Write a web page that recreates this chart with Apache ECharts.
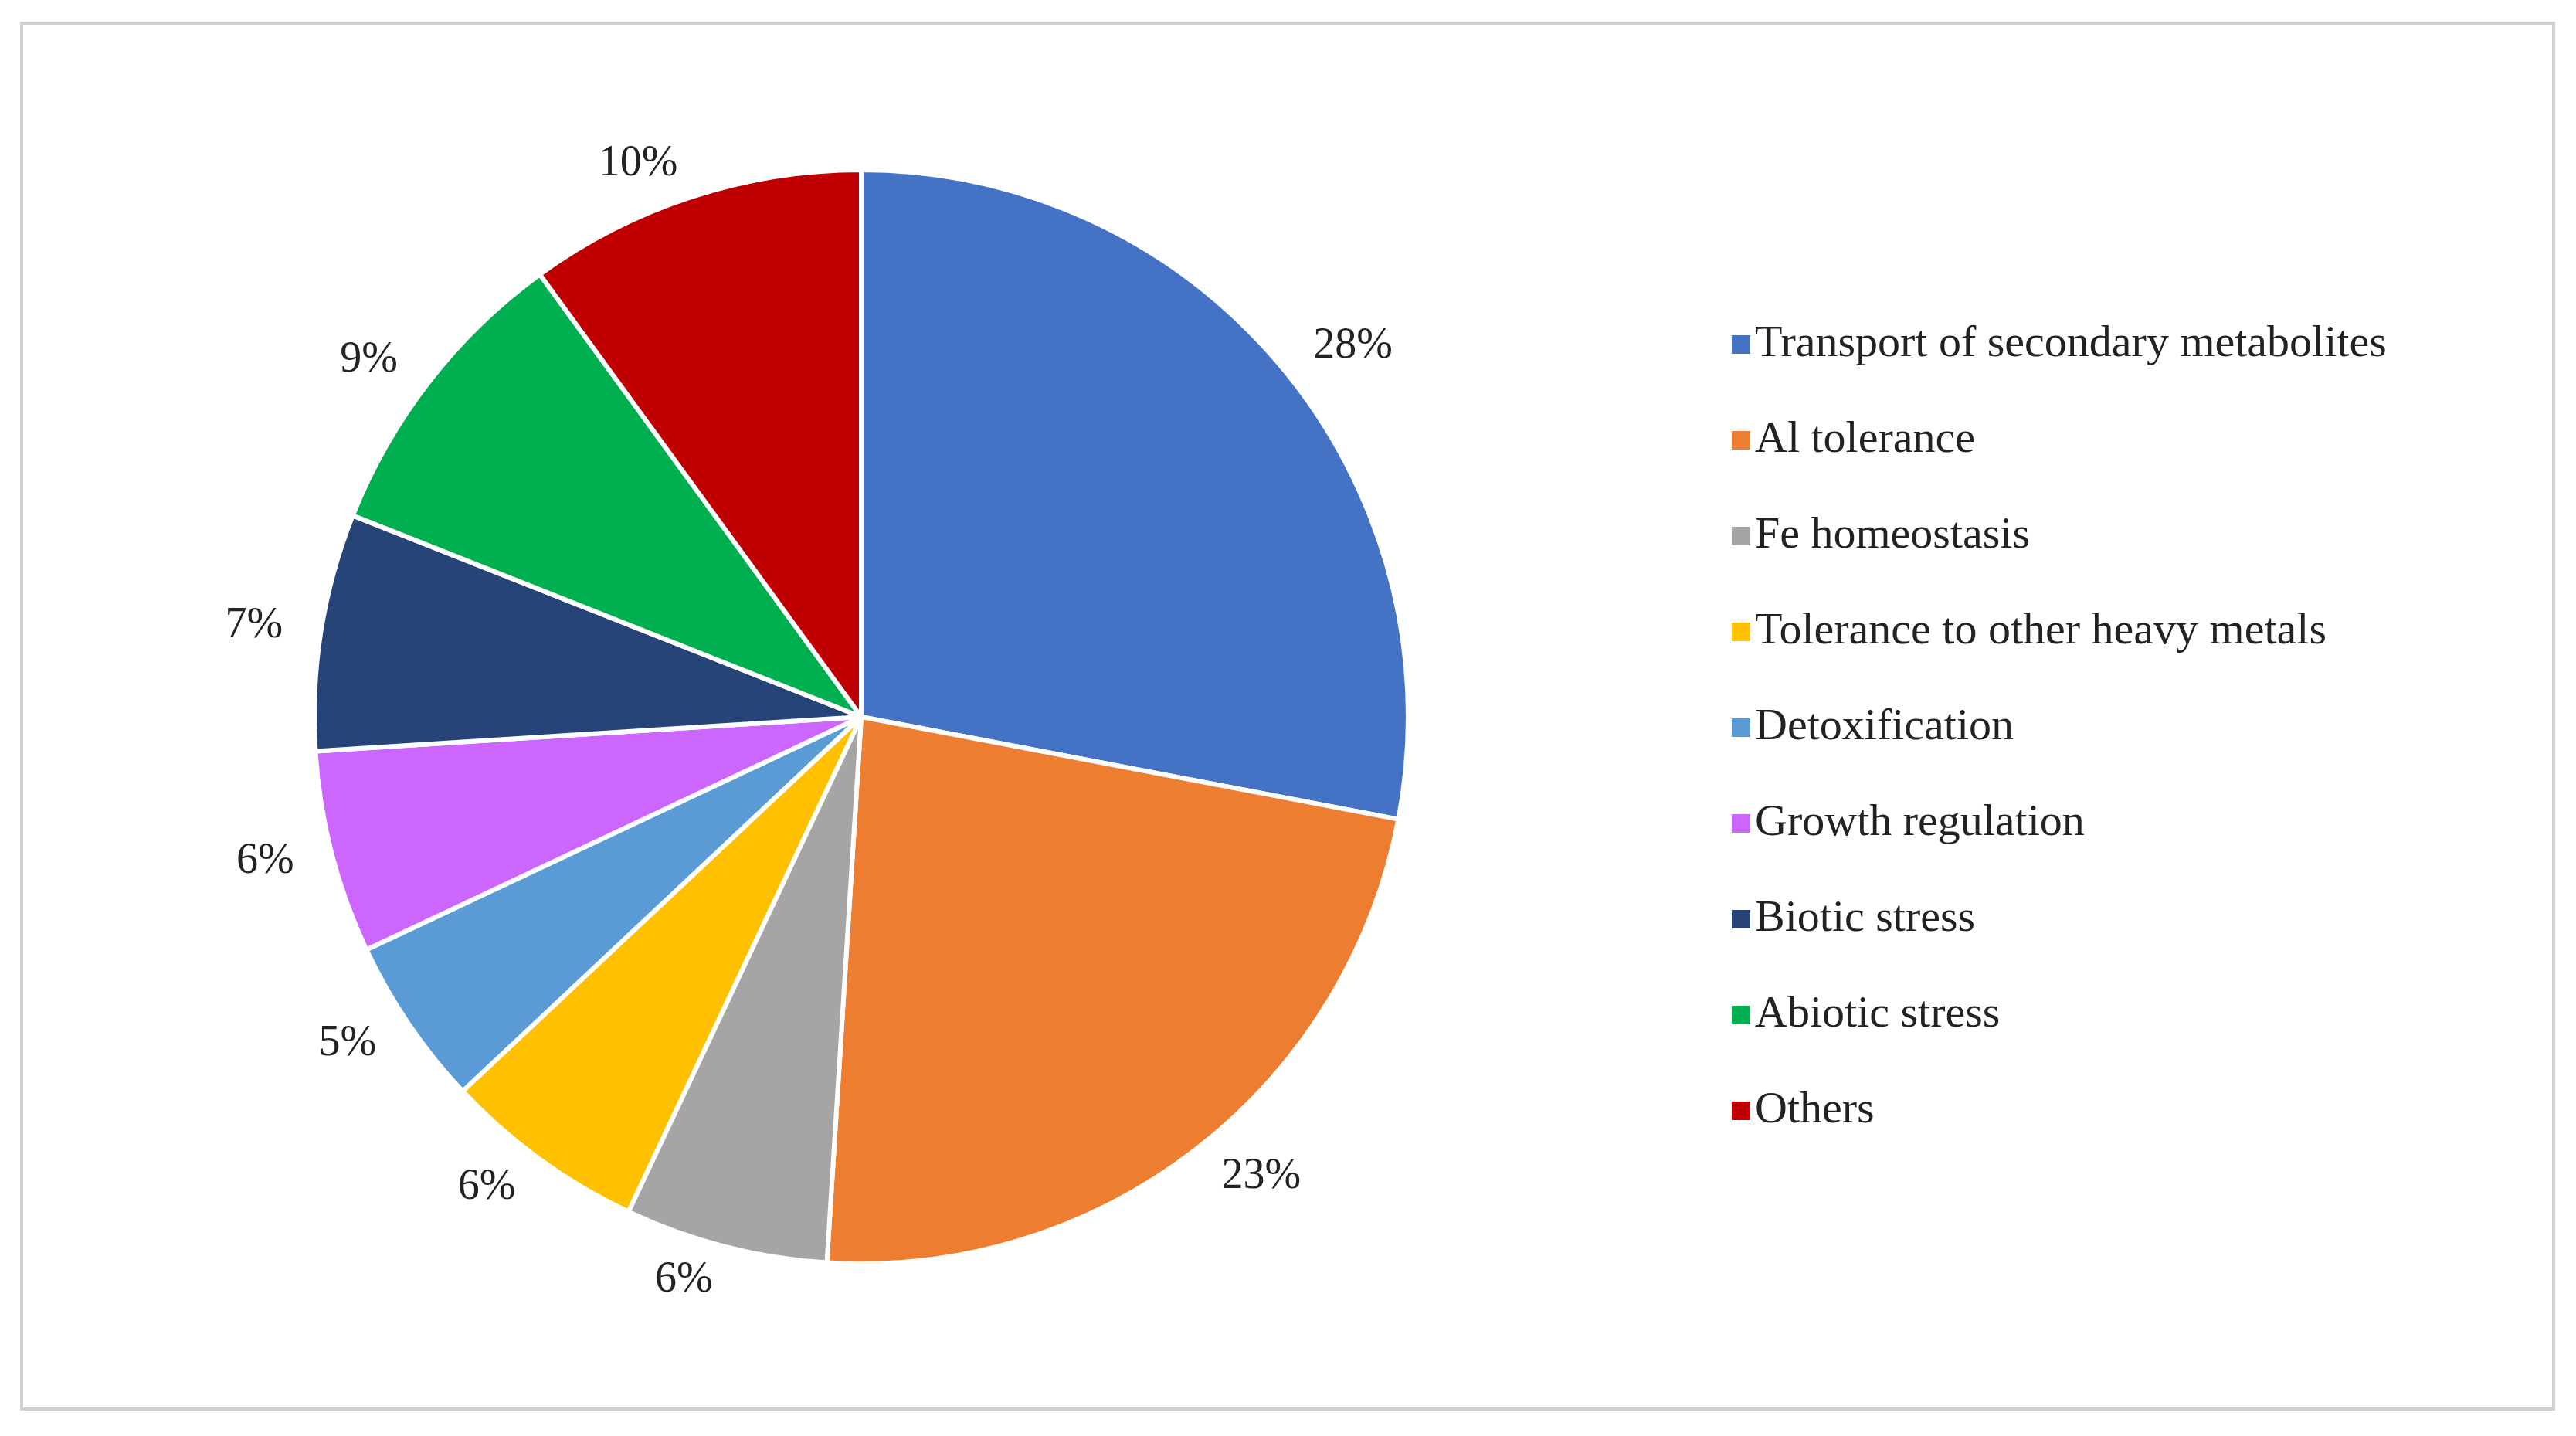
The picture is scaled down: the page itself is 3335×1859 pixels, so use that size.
<!DOCTYPE html>
<html>
<head>
<meta charset="utf-8">
<script src="https://cdn.jsdelivr.net/npm/echarts@6/dist/echarts.min.js"></script>
<style>html,body{margin:0;padding:0;background:#fff}#main{width:3335px;height:1859px}</style>
</head>
<body>
<div id="main"></div>
<script>
var categories = ['Transport of secondary metabolites', 'Al tolerance', 'Fe homeostasis',
    'Tolerance to other heavy metals', 'Detoxification', 'Growth regulation',
    'Biotic stress', 'Abiotic stress', 'Others'];
var values = [28, 23, 6, 6, 5, 6, 7, 9, 10];
var colors = ['#4472C4', '#ED7D31', '#A5A5A5', '#FFC000', '#5B9BD5', '#CC66FF',
    '#264478', '#00B050', '#C00000'];

var font = 'Liberation Serif';
var option = {
    color: colors,
    graphic: [{
        type: 'rect',
        shape: {x: 28, y: 30, width: 3278, height: 1794},
        style: {fill: 'none', stroke: '#d0d0d0', lineWidth: 4}
    }],
    legend: {
        orient: 'vertical',
        left: 2235,
        top: 412,
        itemWidth: 26,
        itemHeight: 26,
        itemGap: 66,
        icon: 'rect',
        textStyle: {fontFamily: font, fontSize: 58, color: '#222'},
        data: categories
    },
    series: [{
        type: 'pie',
        center: [1115, 928],
        radius: [0, 708],
        startAngle: 90,
        clockwise: true,
        itemStyle: {borderColor: '#fff', borderWidth: 6},
        label: {
            show: true,
            position: 'outside',
            formatter: '{c}%',
            fontFamily: font,
            fontSize: 56,
            color: '#222'
        },
        labelLine: {show: false, length: 45, length2: 0},
        emphasis: {disabled: true},
        data: categories.map(function (c, i) { return {name: c, value: values[i]}; })
    }]
};
var myChart = echarts.init(document.getElementById('main'));
myChart.setOption(option);
</script>
</body>
</html>
